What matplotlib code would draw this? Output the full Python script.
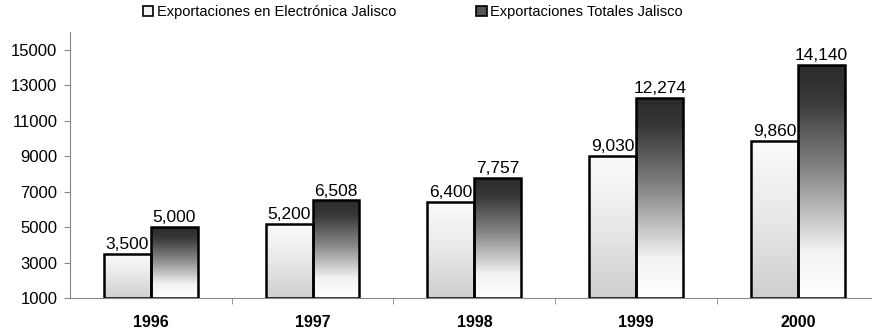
import numpy as np
import matplotlib
matplotlib.use("Agg")
import matplotlib.pyplot as plt
from matplotlib.patches import Rectangle, Patch
from matplotlib.colors import LinearSegmentedColormap

years = ["1996", "1997", "1998", "1999", "2000"]
electronica = [3500, 5200, 6400, 9030, 9860]
totales = [5000, 6508, 7757, 12274, 14140]
yticks = [1000, 3000, 5000, 7000, 9000, 11000, 13000, 15000]

plt.rcParams['font.family'] = ['Liberation Sans', 'DejaVu Sans']

# bottom -> top gradients
light_cmap = LinearSegmentedColormap.from_list(
    'light', [(0, '#cfcfcf'), (0.5, '#e8e8e8'), (1, '#fbfbfb')])
dark_cmap = LinearSegmentedColormap.from_list(
    'dark', [(0, '#ffffff'), (0.2, '#f2f2f2'), (0.55, '#858585'),
             (0.85, '#383838'), (1, '#2a2a2a')])

fig = plt.figure(figsize=(8.72, 3.29), dpi=100)
ax = fig.add_axes([0.080, 0.094, 0.920, 0.809])
base = 1000
ymax = 16000
ax.set_xlim(-0.5, 4.457)
ax.set_ylim(base, ymax)

w = 0.29
grad = np.linspace(0, 1, 256).reshape(-1, 1)


def gradient_bar(x0, h, cmap):
    rect = Rectangle((x0, base), w, h - base, facecolor='none',
                     edgecolor='black', lw=1.8, zorder=3)
    ax.add_patch(rect)
    im = ax.imshow(grad, cmap=cmap, vmin=0, vmax=1, aspect='auto',
                   extent=(x0, x0 + w, base, h), origin='lower', zorder=2)
    im.set_clip_path(rect)


for i in range(len(years)):
    gradient_bar(i - w, electronica[i], light_cmap)
    gradient_bar(i, totales[i], dark_cmap)
    ax.text(i - w / 2, electronica[i] + 100, f"{electronica[i]:,}",
            ha='center', va='bottom', fontsize=12.5)
    ax.text(i + w / 2, totales[i] + 100, f"{totales[i]:,}",
            ha='center', va='bottom', fontsize=12.5)

ax.set_xticks(np.arange(len(years)))
ax.set_xticklabels(years, fontweight='bold', fontsize=11.5)
ax.set_xticks(np.arange(len(years) - 1) + 0.5, minor=True)
ax.tick_params(axis='x', which='major', length=0, pad=12)
ax.tick_params(axis='x', which='minor', length=4, color='#888888')
ax.set_yticks(yticks)
ax.set_yticklabels([str(t) for t in yticks], fontsize=12)
ax.tick_params(axis='y', length=4, color='#888888', pad=5)

for s in ['top', 'right']:
    ax.spines[s].set_visible(False)
ax.spines['left'].set_color('#888888')
ax.spines['bottom'].set_color('#888888')

handles = [Patch(facecolor='#f2f2f2', edgecolor='black', lw=1.2),
           Patch(facecolor='#555555', edgecolor='black', lw=1.2)]
fig.legend(handles, ["Exportaciones en Electrónica Jalisco",
                     "Exportaciones Totales Jalisco"],
           loc='upper left', bbox_to_anchor=(0.149, 1.025), ncol=2,
           frameon=False, fontsize=10.5, handlelength=0.7, handleheight=0.7,
           handletextpad=0.25, columnspacing=5.5)

fig.savefig("out.png", dpi=100)
